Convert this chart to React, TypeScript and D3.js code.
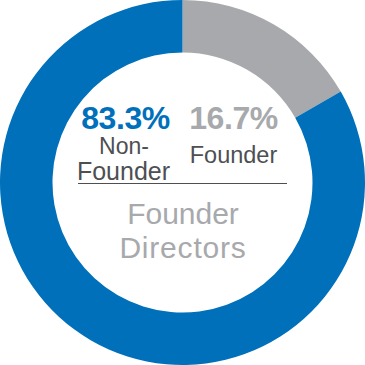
import React from 'react';
import { pie, arc } from 'd3';

const categories = ['Founder', 'Non-Founder'];
const values = [16.7, 83.3];
const colors = ['#A7A9AC', '#0070BA'];
const title = ['Founder', 'Directors'];

const W = 365;
const H = 365;
const cx = W / 2;
const cy = H / 2;
const outerR = 182.5;
const innerR = 130;

export default function App() {
  const slices = pie<number>().sort(null)(values);
  const arcGen = arc<any>().innerRadius(innerR).outerRadius(outerR);
  const font = '"Liberation Sans", Arial, Helvetica, sans-serif';
  const dark = '#4D4F53';

  return (
    <svg width={W} height={H} style={{ position: 'absolute', left: 0, top: 0, background: '#fff' }} fontFamily={font}>
      <g transform={`translate(${cx},${cy})`}>
        {slices.map((s, i) => (
          <path key={categories[i]} d={arcGen(s) || ''} fill={colors[i]} />
        ))}
      </g>
      {/* percentages */}
      <text x={125.5} y={129} textAnchor="middle" fontSize={32} fontWeight="bold" letterSpacing={-0.4} fill={colors[1]}>
        {values[1].toFixed(1)}%
      </text>
      <text x={233.5} y={129} textAnchor="middle" fontSize={32} fontWeight="bold" letterSpacing={-0.4} fill={colors[0]}>
        {values[0].toFixed(1)}%
      </text>
      {/* category labels */}
      <text x={124} y={154} textAnchor="middle" fontSize={23} fill={dark}>Non-</text>
      <text x={123.5} y={180} textAnchor="middle" fontSize={25} fill={dark}>{categories[0]}</text>
      <text x={233.5} y={163} textAnchor="middle" fontSize={23.5} fill={dark}>{categories[0]}</text>
      <line x1={78} x2={287} y1={183.5} y2={183.5} stroke={dark} strokeWidth={1} />
      {title.map((t, i) => (
        <text key={t} x={183} y={224 + i * 34} textAnchor="middle" fontSize={30} fill={colors[0]} letterSpacing={i === 1 ? 0.8 : 0}>
          {t}
        </text>
      ))}
    </svg>
  );
}
